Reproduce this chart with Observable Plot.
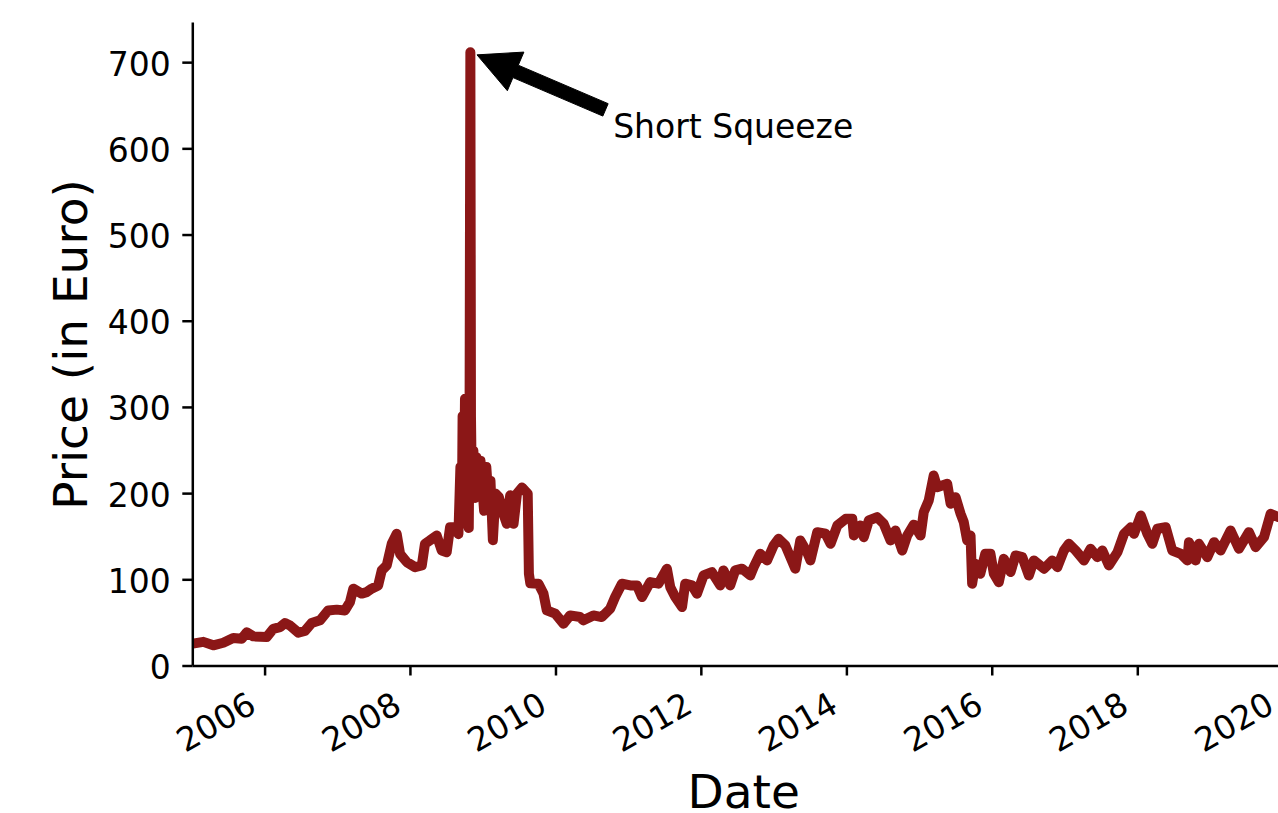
<!DOCTYPE html>
<html><head><meta charset="utf-8">
<script src="https://cdn.jsdelivr.net/npm/d3@7"></script>
<script src="https://cdn.jsdelivr.net/npm/@observablehq/plot@0.6"></script>
<style>
html,body{margin:0;padding:0;background:#fff;overflow:hidden}
#wrap{width:1278px;height:813px;overflow:hidden;position:relative;background:#fff}
#wrap svg{max-width:none !important;width:1294px !important;height:813px !important;display:block}
</style></head><body><div id="wrap"></div>
<script>
const dates = [
"2005-01-03","2005-02-25","2005-04-16","2005-06-05","2005-07-25","2005-09-06","2005-10-01","2005-11-03",
"2006-01-09","2006-02-11","2006-03-17","2006-04-11","2006-05-06","2006-06-17","2006-07-20","2006-08-23","2006-10-04","2006-11-14","2006-12-27",
"2007-02-06","2007-03-03","2007-03-20","2007-05-01","2007-05-26","2007-06-20","2007-07-23","2007-08-10","2007-09-04","2007-09-29","2007-10-24","2007-11-10","2007-12-14",
"2008-01-24","2008-02-27","2008-03-14","2008-04-08","2008-05-12","2008-06-06","2008-07-01","2008-07-18","2008-08-12","2008-08-29",
"2008-09-08","2008-09-15","2008-09-19","2008-09-26","2008-10-01","2008-10-08","2008-10-14","2008-10-20","2008-10-24","2008-10-28","2008-10-31",
"2008-11-05","2008-11-12","2008-11-20","2008-11-28","2008-12-08","2008-12-18",
"2009-01-05","2009-01-16","2009-01-28","2009-02-06","2009-02-18","2009-03-03","2009-03-20","2009-04-11","2009-04-29","2009-05-16","2009-06-02","2009-06-19","2009-07-14","2009-08-12","2009-08-18","2009-08-25","2009-10-05","2009-10-30","2009-11-16","2009-12-28",
"2010-02-08","2010-03-13","2010-05-02","2010-05-19","2010-07-08","2010-08-19","2010-09-30","2010-10-25","2010-11-28",
"2011-01-09","2011-02-12","2011-03-09","2011-04-19","2011-05-31","2011-07-12","2011-07-29","2011-08-23","2011-09-26","2011-10-12","2011-11-15","2011-12-10",
"2012-01-12","2012-02-23","2012-04-05","2012-04-21","2012-05-25","2012-06-19","2012-07-23","2012-09-03","2012-09-20","2012-10-23","2012-11-26","2012-12-29",
"2013-01-23","2013-02-26","2013-03-23","2013-04-17","2013-05-12","2013-06-15","2013-07-02","2013-08-05","2013-09-16","2013-10-11","2013-11-14","2013-12-26",
"2014-01-28","2014-02-05","2014-03-10","2014-03-27","2014-04-21","2014-06-02","2014-07-05","2014-08-08","2014-09-02","2014-10-06","2014-10-31","2014-12-03",
"2015-01-06","2015-01-22","2015-02-16","2015-03-13","2015-03-30","2015-05-20","2015-06-06","2015-07-01","2015-07-26","2015-08-11","2015-08-28","2015-09-14","2015-09-22","2015-10-08","2015-11-02","2015-11-27","2015-12-23",
"2016-01-09","2016-02-03","2016-02-28","2016-04-02","2016-04-27","2016-05-31","2016-07-03","2016-07-28","2016-09-17","2016-10-29","2016-11-23","2016-12-26",
"2017-01-20","2017-02-23","2017-04-06","2017-05-09","2017-06-12","2017-07-07","2017-08-09","2017-09-21","2017-10-24","2017-11-27","2017-12-13",
"2018-01-16","2018-02-18","2018-03-15","2018-04-09","2018-05-21","2018-06-23","2018-08-04","2018-09-07","2018-09-15","2018-10-19","2018-11-04","2018-12-16",
"2019-01-19","2019-02-21","2019-04-12","2019-05-24","2019-07-13","2019-08-16","2019-09-27","2019-10-30","2019-12-09","2020-01-15"
];
const prices = [
26,28,24,27,32.5,31.7,39,34.4,
33.6,43,45,49.8,47,38.7,40.6,49.8,53,64.5,65.4,
64.5,74,89.7,84,85.7,89.7,93.5,111,116.7,141.8,153.4,130,120.5,
114.7,116.7,141.8,145.7,151.4,134,132,161,161,153,
231,165,290,200,310,170,300,160,290,712,290,
195,250,195,242,205,238,
180,231,190,215,146,200,196,177,165,198,165,200,207,200,107,96,95.5,84,64.5,60.7,
49,58.7,56.8,53,58.7,56.8,66.5,80,95.5,
93.5,93.5,80,97.3,95.5,112.9,91.5,80,68.4,95.5,93.5,83.9,
105,109,93.5,110.9,93.5,110.9,112.9,105,114.7,130.2,122.5,139.9,
147.6,139.9,126.3,112.9,145.7,132.1,122.5,155.3,153.4,141.8,163,170.8,
170.8,151.4,163,149.5,168.8,172.7,165,145.7,157.2,134,151.4,164,
151.4,178.5,192,221,207.4,211.4,188.2,195.8,176.6,166.9,145.7,151.4,95.5,118.7,107.1,130.2,130.2,
107.1,97.3,124.4,109,128.3,126.3,105,122.5,112.9,122.5,114.7,134,
141.8,134,122.5,136,126.3,134,116.7,132.1,153.4,161,153.4,
174.6,153.4,141.8,159.2,161,134,130.2,122.5,143.7,122.5,141.8,126.3,
143.7,134,157.2,136,155.3,137.9,149.5,176.6,172.7,172
];
const yTicks = [0, 100, 200, 300, 400, 500, 600, 700];
const xTickYears = [2006, 2008, 2010, 2012, 2014, 2016, 2018, 2020];
const xDomain = ["2005-01-03", "2020-02-27"];
const yDomain = [0, 746];
const annotation = {label: "Short Squeeze", date: "2010-10-15", value: 612};
const xLabel = "Date";
const yLabel = "Price (in Euro)";

const parse = d3.utcParse("%Y-%m-%d");
const series = dates.map((d, i) => ({date: parse(d), price: prices[i]}));
const xTicks = xTickYears.map(y => new Date(Date.UTC(y, 0, 1)));
const peak = series[d3.maxIndex(series, d => d.price)];
const annot = {label: annotation.label, date: parse(annotation.date), value: annotation.value};

const lineColor = "#8b1717";
const tickFont = 33;
const annotFont = 33;
const labelFont = 47;

const chart = Plot.plot({
  width: 1294,
  height: 813,
  marginLeft: 192.3,
  marginRight: 0,
  marginTop: 22.5,
  marginBottom: 147.5,
  style: {fontFamily: "DejaVu Sans", background: "white", color: "black"},
  x: {type: "utc", domain: xDomain.map(parse)},
  y: {domain: yDomain},
  marks: [
    Plot.line(series, {x: "date", y: "price", stroke: lineColor, strokeWidth: 10, strokeLinejoin: "round", strokeLinecap: "butt", clip: true}),
    Plot.ruleY([0], {stroke: "black", strokeWidth: 2.5}),
    Plot.ruleX([parse(xDomain[0])], {stroke: "black", strokeWidth: 2.5}),
    Plot.axisY({ticks: yTicks, tickSize: 10, tickFormat: () => "", label: null, strokeWidth: 2.5}),
    Plot.axisX({ticks: xTicks, tickSize: 10, tickFormat: () => "", label: null, strokeWidth: 2.5}),
    Plot.text(yTicks, {y: d => d, text: d => String(d), frameAnchor: "left", textAnchor: "end", lineAnchor: "bottom", dx: -22, dy: 13, fontSize: tickFont, fill: "black"}),
    Plot.text(xTicks, {x: d => d, text: d => String(d.getUTCFullYear()), frameAnchor: "bottom", textAnchor: "end", lineAnchor: "bottom", rotate: -30, dx: -7, dy: 45, fontSize: tickFont, fill: "black"}),
    Plot.text([yLabel], {text: d => d, frameAnchor: "left", rotate: -90, textAnchor: "middle", lineAnchor: "middle", dx: -121, fontSize: labelFont, fill: "black"}),
    Plot.text([xLabel], {text: d => d, frameAnchor: "bottom", textAnchor: "middle", lineAnchor: "bottom", dy: 141.5, fontSize: labelFont, fill: "black"}),
    Plot.text([annot], {x: "date", y: "value", text: "label", textAnchor: "start", lineAnchor: "bottom", fontSize: annotFont, fill: "black"})
  ]
});

// annotation arrow (matplotlib-style filled "simple" arrow), positioned through Plot's scales
const sx = chart.scale("x"), sy = chart.scale("y");
const P = [sx.apply(peak.date), sy.apply(peak.price)];
const C = [sx.apply(annot.date), sy.apply(annot.value) - 0.76 * annotFont];
const dxv = C[0] - P[0], dyv = C[1] - P[1];
const r = Math.hypot(dxv, dyv);
const u = [dxv / r, dyv / r];
const n = [-u[1], u[0]];
const shrink = 0.05 * r;
const tip = [P[0] + u[0] * shrink, P[1] + u[1] * shrink];
const tail = [C[0] - u[0] * shrink, C[1] - u[1] * shrink];
const hl = 42, hw = 21, tw = 6.75;
const base = [tip[0] + u[0] * hl, tip[1] + u[1] * hl];
const pts = [
  tip,
  [base[0] + n[0] * hw, base[1] + n[1] * hw],
  [base[0] + n[0] * tw, base[1] + n[1] * tw],
  [tail[0] + n[0] * tw, tail[1] + n[1] * tw],
  [tail[0] - n[0] * tw, tail[1] - n[1] * tw],
  [base[0] - n[0] * tw, base[1] - n[1] * tw],
  [base[0] - n[0] * hw, base[1] - n[1] * hw]
];
d3.select(chart).append("path")
  .attr("d", "M" + pts.map(p => p.join(",")).join("L") + "Z")
  .attr("fill", "black")
  .attr("stroke", "black")
  .attr("stroke-width", 1);

document.getElementById("wrap").appendChild(chart);
</script>
</body></html>
